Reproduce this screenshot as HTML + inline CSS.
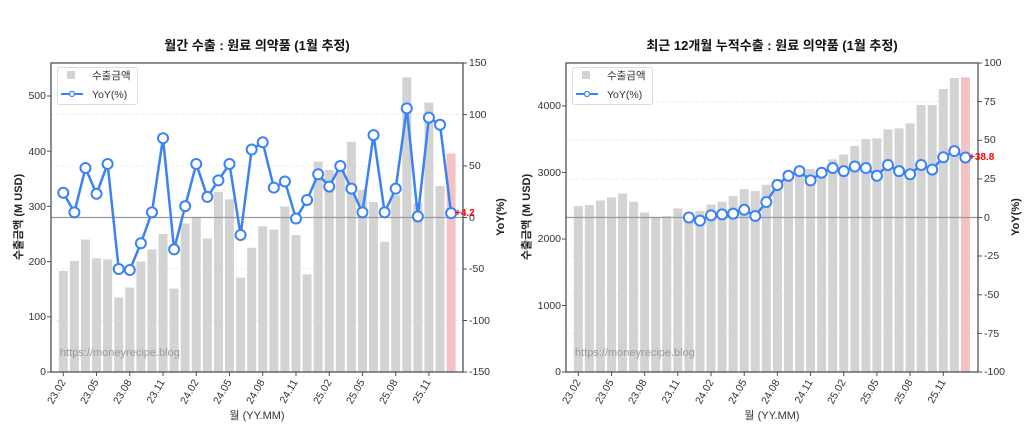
<!DOCTYPE html>
<html><head><meta charset="utf-8"><style>
body{margin:0;background:#fff;}
svg{display:block;font-family:"Liberation Sans","Noto Sans CJK KR",sans-serif;}
.t{font-size:10.5px;fill:#333;}
.ti{font-size:13px;font-weight:bold;fill:#111;}
.al{font-size:11px;font-weight:bold;fill:#222;}
</style></head><body>
<svg id="s" width="1024" height="448" viewBox="0 0 1024 448" xmlns="http://www.w3.org/2000/svg">
<g id="g1"></g>
<text class="ti" x="257" y="50" text-anchor="middle">월간 수출 : 원료 의약품 (1월 추정)</text>
<g class="t" text-anchor="end">
<text x="46" y="375">0</text><text x="46" y="320">100</text><text x="46" y="265">200</text><text x="46" y="210">300</text><text x="46" y="155">400</text><text x="46" y="99">500</text>
</g>
<g class="t" text-anchor="start">
<text x="469" y="66">150</text><text x="469" y="118">100</text><text x="469" y="169">50</text><text x="469" y="221">0</text><text x="469" y="272">-50</text><text x="469" y="324">-100</text><text x="469" y="375">-150</text>
</g>
<g class="t" text-anchor="end">
<text transform="translate(66,382) rotate(-60)">23.02</text>
<text transform="translate(99,382) rotate(-60)">23.05</text>
<text transform="translate(132,382) rotate(-60)">23.08</text>
<text transform="translate(165,382) rotate(-60)">23.11</text>
<text transform="translate(199,382) rotate(-60)">24.02</text>
<text transform="translate(232,382) rotate(-60)">24.05</text>
<text transform="translate(265,382) rotate(-60)">24.08</text>
<text transform="translate(298,382) rotate(-60)">24.11</text>
<text transform="translate(332,382) rotate(-60)">25.02</text>
<text transform="translate(365,382) rotate(-60)">25.05</text>
<text transform="translate(398,382) rotate(-60)">25.08</text>
<text transform="translate(431,382) rotate(-60)">25.11</text>
</g>
<text class="t" style="font-size:11px" x="257" y="419" text-anchor="middle">월 (YY.MM)</text>
<text class="al" transform="translate(22,217) rotate(-90)" text-anchor="middle">수출금액 (M USD)</text>
<text class="al" transform="translate(504,217) rotate(-90)" text-anchor="middle">YoY(%)</text>
<text x="60" y="356" style="font-size:11px;fill:#999">https://moneyrecipe.blog</text>
<text x="455" y="216" style="font-size:10px;font-weight:bold;fill:#f00">+4.2</text>
<rect x="57.5" y="67.5" width="80" height="37" rx="2" fill="#fff" fill-opacity="0.85" stroke="#ddd"/>
<rect x="67" y="71" width="8" height="8" fill="#d3d3d3"/>
<text class="t" x="92" y="79">수출금액</text>
<line x1="61" y1="94" x2="83" y2="94" stroke="#3b82f6" stroke-width="2"/>
<circle cx="72" cy="94" r="2.5" fill="#fff" stroke="#3b82f6" stroke-width="1.2"/>
<text class="t" x="92" y="98">YoY(%)</text>

<text class="ti" x="772" y="50" text-anchor="middle">최근 12개월 누적수출 : 원료 의약품 (1월 추정)</text>
<g class="t" text-anchor="end">
<text x="561" y="375">0</text><text x="561" y="309">1000</text><text x="561" y="242">2000</text><text x="561" y="176">3000</text><text x="561" y="109">4000</text>
</g>
<g class="t" text-anchor="start">
<text x="984" y="66">100</text><text x="984" y="105">75</text><text x="984" y="143">50</text><text x="984" y="182">25</text><text x="984" y="221">0</text><text x="984" y="259">-25</text><text x="984" y="298">-50</text><text x="984" y="337">-75</text><text x="984" y="375">-100</text>
</g>
<g class="t" text-anchor="end">
<text transform="translate(581,382) rotate(-60)">23.02</text>
<text transform="translate(614,382) rotate(-60)">23.05</text>
<text transform="translate(647,382) rotate(-60)">23.08</text>
<text transform="translate(680,382) rotate(-60)">23.11</text>
<text transform="translate(714,382) rotate(-60)">24.02</text>
<text transform="translate(747,382) rotate(-60)">24.05</text>
<text transform="translate(780,382) rotate(-60)">24.08</text>
<text transform="translate(813,382) rotate(-60)">24.11</text>
<text transform="translate(846,382) rotate(-60)">25.02</text>
<text transform="translate(879,382) rotate(-60)">25.05</text>
<text transform="translate(913,382) rotate(-60)">25.08</text>
<text transform="translate(946,382) rotate(-60)">25.11</text>
</g>
<text class="t" style="font-size:11px" x="772" y="419" text-anchor="middle">월 (YY.MM)</text>
<text class="al" transform="translate(530,217) rotate(-90)" text-anchor="middle">수출금액 (M USD)</text>
<text class="al" transform="translate(1019,217) rotate(-90)" text-anchor="middle">YoY(%)</text>
<text x="575" y="356" style="font-size:11px;fill:#999">https://moneyrecipe.blog</text>
<text x="969" y="160" style="font-size:10px;font-weight:bold;fill:#f00">+38.8</text>
<rect x="572.5" y="67.5" width="80" height="37" rx="2" fill="#fff" fill-opacity="0.85" stroke="#ddd"/>
<rect x="582" y="71" width="8" height="8" fill="#d3d3d3"/>
<text class="t" x="607" y="79">수출금액</text>
<line x1="576" y1="94" x2="598" y2="94" stroke="#3b82f6" stroke-width="2"/>
<circle cx="587" cy="94" r="2.5" fill="#fff" stroke="#3b82f6" stroke-width="1.2"/>
<text class="t" x="607" y="98">YoY(%)</text>
</svg>
<script>
var NS="http://www.w3.org/2000/svg",g=document.getElementById('g1');
function el(n,a){var e=document.createElementNS(NS,n);for(var k in a)e.setAttribute(k,a[k]);g.appendChild(e);return e;}
function chart(c){
 c.grid.forEach(function(v){var y=c.y0r-v*c.kr;el('line',{x1:c.x0,x2:c.x1,y1:y,y2:y,stroke:'#e6e6e6','stroke-width':0.8,'stroke-dasharray':'3,2'});});
 c.bars.forEach(function(v,i){var x=c.bx+c.dx*i,h=v*c.kl;el('rect',{x:x-4.5,y:372-h,width:9,height:h,fill:i==35?'#f4c2c2':'#d3d3d3'});});
 el('line',{x1:c.x0,x2:c.x1,y1:c.y0r,y2:c.y0r,stroke:'#999','stroke-width':1.3});
 var pts=[];c.yoy.forEach(function(v,i){if(v===null)return;pts.push([c.bx+c.dx*i,c.y0r-v*c.kr]);});
 el('polyline',{points:pts.map(function(p){return p.join(',')}).join(' '),fill:'none',stroke:'#3b82f6','stroke-width':2.5,'stroke-linejoin':'round'});
 pts.forEach(function(p){el('circle',{cx:p[0],cy:p[1],r:5,fill:'#fff',stroke:'#3b82f6','stroke-width':2});});
 el('rect',{x:c.x0,y:63,width:c.x1-c.x0,height:309,fill:'none',stroke:'#4a5060','stroke-width':1.3});
 c.lt.forEach(function(y){el('line',{x1:c.x0-4,x2:c.x0,y1:y,y2:y,stroke:'#4a5060'});});
 c.rt.forEach(function(y){el('line',{x1:c.x1,x2:c.x1+4,y1:y,y2:y,stroke:'#4a5060'});});
 for(var i=0;i<36;i+=3){var x=c.bx+c.dx*i;el('line',{x1:x,x2:x,y1:372,y2:376,stroke:'#4a5060'});}
}
chart({x0:51,x1:463,bx:63.3,dx:11.08,kl:0.552,y0r:217.5,kr:1.03,grid:[100,50,-50,-100],
 bars:[183,201,240,206,204,135,153,200,222,250,151,269,281,242,326,313,171,225,264,258,300,248,177,381,366,372,417,330,308,236,320,534,306,488,337,396],
 yoy:[24,5,48,23,52,-50,-51,-25,5,77,-31,11,52,20,36,52,-17,66,73,29,35,-1,17,42,30,50,28,5,80,5,28,106,1,97,90,4.2],
 lt:[372,316.8,261.6,206.4,151.2,96],rt:[63,114.5,166,217.5,269,320.5,372]});
var y2=[];for(var i=0;i<10;i++)y2.push(null);
y2=y2.concat([0,-2,1.4,2,2.5,5,1,10,21,27,30,24,29,32,30,33,32,27,34,30,28,34,31,39,43,38.8]);
chart({x0:566,x1:978,bx:578.3,dx:11.06,kl:0.0665,y0r:217.5,kr:1.545,grid:[75,50,25,-25,-50,-75],
 bars:[2494,2509,2580,2625,2685,2560,2399,2334,2344,2459,2350,2424,2520,2560,2645,2750,2720,2815,2906,2961,3046,3051,2986,3197,3272,3398,3503,3513,3648,3663,3739,4015,4015,4256,4421,4431],
 yoy:y2,lt:[372,305.5,239,172.5,106],rt:[63,101.6,140.3,178.9,217.5,256,294.8,333.4,372]});
</script>
</body></html>
